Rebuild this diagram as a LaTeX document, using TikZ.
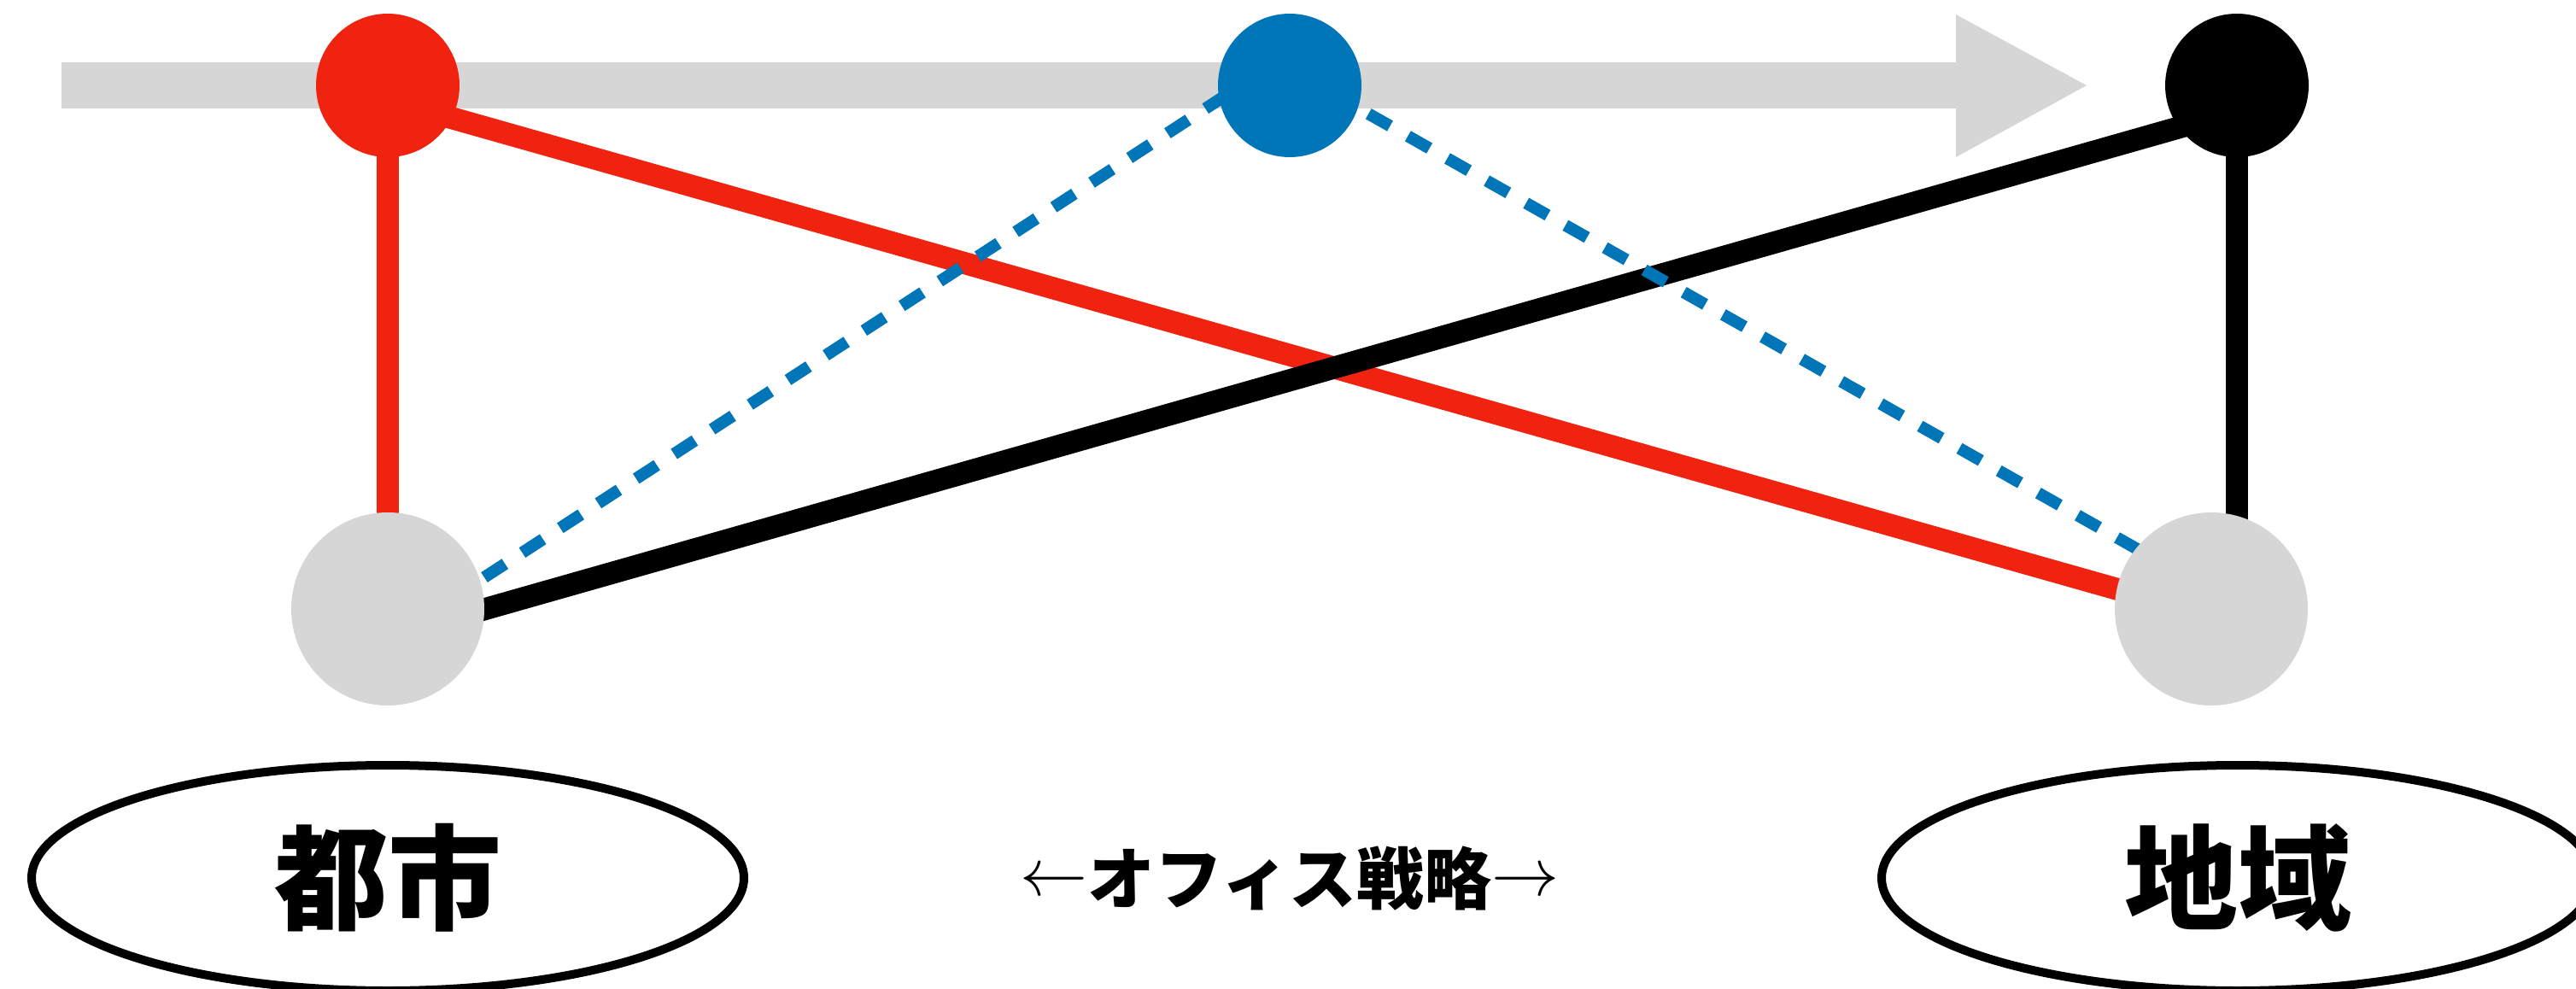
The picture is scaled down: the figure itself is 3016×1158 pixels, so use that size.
\documentclass[tikz,border=0pt]{standalone}
\usepackage{fontspec}
\newfontfamily\cjk{Noto Sans CJK JP}
\usetikzlibrary{shapes.geometric,backgrounds}
\definecolor{cred}{RGB}{239,35,16}
\definecolor{cblue}{RGB}{0,118,185}
\definecolor{cgray}{RGB}{214,214,214}
\begin{document}
\begin{tikzpicture}[x=1pt,y=-1pt,
  ball/.style={circle,inner sep=0pt,minimum size=168pt,fill=#1},
  hub/.style={circle,inner sep=0pt,minimum size=226pt,fill=cgray},
  lbl/.style={ellipse,draw=black,line width=10pt,minimum width=834pt,minimum height=264pt,inner sep=0pt,font=\cjk\bfseries\fontsize{133pt}{150pt}\selectfont},
  link/.style={line width=26pt},
  dashlink/.style={line width=14pt,draw=cblue,dash pattern=on 29pt off 24pt}]
\useasboundingbox (0,0) rectangle (3016,1158);
\clip (0,0) rectangle (3016,1158);

% dots
\node[ball=cred] (rd) at (454,100) {};
\node[ball=cblue] (bl) at (1510,100) {};
\node[ball=black] (bk) at (2619,100) {};
\node[hub] (gl) at (454,713) {};
\node[hub] (gr) at (2589,713) {};

% labels
\node[lbl] (city) at (454,1028) {都市};
\node[lbl] (region) at (2620,1028) {地域};
\node[font=\cjk\bfseries\fontsize{79pt}{90pt}\selectfont,inner sep=0pt] (mid) at (1510,1029)
  {\raisebox{10pt}{\scalebox{7.9}{\normalsize$\leftarrow$}}オフィス戦略\raisebox{10pt}{\scalebox{7.9}{\normalsize$\rightarrow$}}};

\begin{pgfonlayer}{background}
  % gray time arrow
  \fill[cgray] (72,73) -- (2290,73) -- (2290,17) -- (2443,100) -- (2290,184) -- (2290,127) -- (72,127) -- cycle;
  % red links
  \draw[link,cred] (rd.center) -- (gl.center);
  \draw[link,cred] ([yshift=-17pt]rd.center) -- ([yshift=-8pt]gr.center);
  % black links
  \draw[link,black] (bk.center) -- (bk.center |- gr.center);
  \draw[link,black] ([xshift=-20pt,yshift=-6pt]gl.east) -- ([yshift=-30pt]bk.center);
  % blue dashed links
  \draw[dashlink] ([xshift=113pt,yshift=37pt]gl.center) -- ([yshift=37pt]bl.center);
  \draw[dashlink] ([yshift=19pt]bl.center) -- ([yshift=21pt]gr.center);
\end{pgfonlayer}
\end{tikzpicture}
\end{document}
